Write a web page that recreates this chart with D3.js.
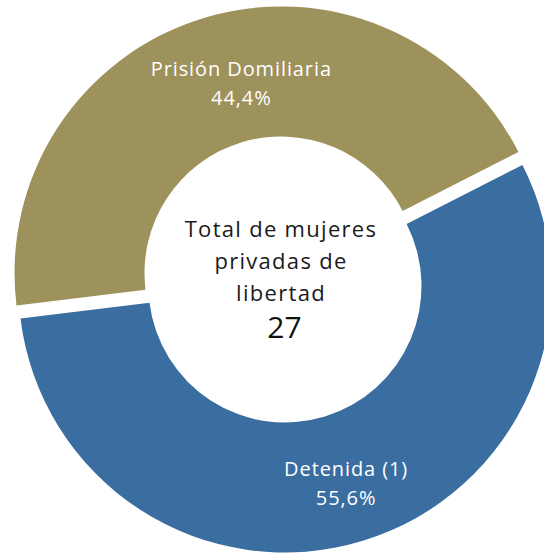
<!DOCTYPE html>
<html><head><meta charset="utf-8">
<script src="https://cdn.jsdelivr.net/npm/d3@7"></script>
<style>html,body{margin:0;padding:0;background:#fff;overflow:hidden}</style>
</head><body>
<svg id="chart" width="544" height="554"></svg>
<script>
const categories = ["Detenida (1)", "Prisión Domiliaria"];
const values = [15, 12];
const percentLabels = ["55,6%", "44,4%"];
const colors = ["#3a6ea1", "#9e925c"];
const centerLines = ["Total de mujeres", "privadas de", "libertad"];
const totalLabel = "27";

const W = 544, H = 554;
const cx = 283, cy = 279.5;
const rOuter = 266.5, rInner = 136.5, explode = 6.8;
const startDeg = 63;

const svg = d3.select("#chart");
const g = svg.append("g").attr("transform", `translate(${cx},${cy})`);

const pie = d3.pie().sort(null)
  .startAngle(startDeg * Math.PI / 180)
  .endAngle(startDeg * Math.PI / 180 + 2 * Math.PI);
const arcs = pie(values);
const arc = d3.arc().innerRadius(rInner).outerRadius(rOuter);

const labelAngleShift = [0, 5 * Math.PI / 180];
const labelRadius = [209, 191];

const slice = g.selectAll("g.slice").data(arcs).join("g")
  .attr("class", "slice")
  .attr("transform", d => {
    const m = (d.startAngle + d.endAngle) / 2;
    return `translate(${explode * Math.sin(m)},${-explode * Math.cos(m)})`;
  });

slice.append("path").attr("d", arc).attr("fill", (d, i) => colors[i]);

slice.each(function(d, i) {
  const m = (d.startAngle + d.endAngle) / 2 + labelAngleShift[i];
  const r = labelRadius[i];
  const x = r * Math.sin(m), y = -r * Math.cos(m);
  const t = d3.select(this).append("text")
    .attr("text-anchor", "middle")
    .attr("fill", "#ffffff")
    .style("font-family", "'Open Sans', Roboto, sans-serif")
    .style("font-size", "20px")
    .style("letter-spacing", "0.9px")
    .style("font-weight", 400);
  t.append("tspan").attr("x", x).attr("y", y - 10).text(categories[i]);
  t.append("tspan").attr("x", x).attr("y", y + 19).text(percentLabels[i]);
});

const ct = g.append("text")
  .attr("text-anchor", "middle")
  .attr("fill", "#1a1a1a")
  .style("font-family", "'Open Sans', Roboto, sans-serif")
  .style("font-size", "22px")
  .style("letter-spacing", "1.3px")
  .style("font-weight", 400);
const baselines = [-42.5, -10.5, 21.5];
centerLines.forEach((s, i) => {
  ct.append("tspan").attr("x", -2).attr("y", baselines[i]).text(s);
});
g.append("text")
  .attr("text-anchor", "middle")
  .attr("x", 1.5).attr("y", 58.5)
  .attr("fill", "#111")
  .style("font-family", "'Open Sans', Roboto, sans-serif")
  .style("font-size", "30px")
  .style("font-weight", 400)
  .text(totalLabel);
</script>
</body></html>
